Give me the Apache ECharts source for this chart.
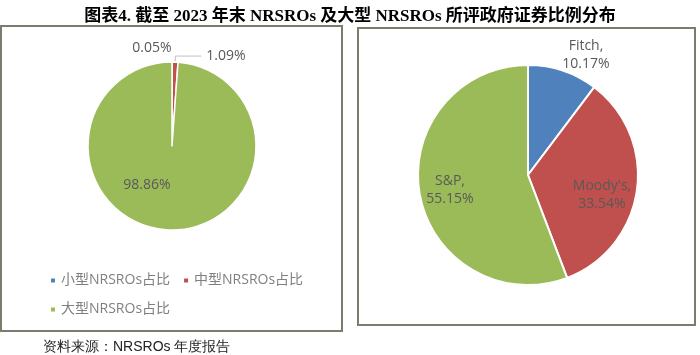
<!DOCTYPE html>
<html>
<head>
<meta charset="utf-8">
<script src="https://cdn.jsdelivr.net/npm/echarts@6/dist/echarts.min.js"></script>
<style>html,body{margin:0;padding:0;background:#fff;}#c{width:700px;height:355px;}</style>
</head>
<body>
<div id="c"></div>
<script>
// ---- data ----
const sizeNames = ['小型NRSROs占比', '中型NRSROs占比', '大型NRSROs占比'];
const sizeValues = [0.05, 1.09, 98.86];
const agencyNames = ['Fitch', "Moody's", 'S&P'];
const agencyValues = [10.17, 33.54, 55.15];
const titleText = '图表4. 截至 2023 年末 NRSROs 及大型 NRSROs 所评政府证券比例分布';
const sourceText = '资料来源：NRSROs 年度报告';

const colors = ['#4f81bd', '#c0504d', '#9bbb59'];
const FONT = "'Open Sans','Noto Sans CJK SC',sans-serif";
const labelColor = '#595959';

// label anchor positions (text block centers)
const leftLabelPos = { 0: [152, 48], 2: [147, 185] };
const rightLabelPos = { 0: [586, 55], 1: [602, 195], 2: [450, 190] };

const chart = echarts.init(document.getElementById('c'), null, { renderer: 'canvas' });

const leftData = sizeNames.map((n, i) => {
  const item = { name: n, value: sizeValues[i] };
  if (i === 0) item.labelLine = { show: false };
  if (i === 2) item.label = { position: 'inside' };
  return item;
});
const rightData = agencyNames.map((n, i) => ({
  name: n, value: agencyValues[i],
  label: { position: 'inside' },
  labelLine: { show: false }
}));

const option = {
  animation: false,
  color: colors,
  title: {
    text: titleText,
    left: 'center',
    top: 3,
    textStyle: { fontSize: 17, fontWeight: 'bold', color: '#000', fontFamily: "'Liberation Serif','Noto Sans CJK SC',serif" }
  },
  legend: {
    data: sizeNames,
    left: 44,
    top: 267,
    width: 290,
    orient: 'horizontal',
    icon: 'rect',
    itemWidth: 6,
    itemHeight: 6,
    itemGap: 12,
    textStyle: { fontSize: 14, color: '#7f7f7f', fontFamily: FONT, lineHeight: 17 }
  },
  graphic: [
    { type: 'rect', shape: { x: 1, y: 26, width: 341, height: 305 }, style: { fill: 'none', stroke: '#7b7d6c', lineWidth: 2 }, z: 0 },
    { type: 'rect', shape: { x: 358, y: 28, width: 337, height: 297 }, style: { fill: 'none', stroke: '#7b7d6c', lineWidth: 2 }, z: 0 },
    { type: 'text', left: 43, top: 340, style: { text: sourceText, fontSize: 14, fill: '#222', font: "14px 'Noto Sans CJK SC','Open Sans',sans-serif" } }
  ],
  series: [
    {
      type: 'pie',
      center: [172, 146],
      radius: [0, 84],
      startAngle: 90,
      clockwise: true,
      avoidLabelOverlap: false,
      itemStyle: { borderColor: '#fff', borderWidth: 1.5 },
      label: {
        show: true,
        position: 'outside',
        formatter: p => p.value.toFixed(2) + '%',
        color: labelColor,
        fontSize: 14,
        fontFamily: FONT
      },
      labelLine: { show: true, length: 6, length2: 26, lineStyle: { color: '#bfbfbf', width: 1 } },
      labelLayout: function (p) {
        const pos = leftLabelPos[p.dataIndex];
        if (!pos) return {};
        return { x: pos[0], y: pos[1], align: 'center', verticalAlign: 'middle' };
      },
      data: leftData
    },
    {
      type: 'pie',
      center: [528, 175],
      radius: [0, 110],
      startAngle: 90,
      clockwise: true,
      avoidLabelOverlap: false,
      itemStyle: { borderColor: '#fff', borderWidth: 2 },
      label: {
        show: true,
        formatter: p => p.name + ',\n' + p.value.toFixed(2) + '%',
        color: labelColor,
        fontSize: 14,
        lineHeight: 18,
        fontFamily: FONT,
        align: 'center'
      },
      labelLayout: function (p) {
        const pos = rightLabelPos[p.dataIndex];
        return { x: pos[0], y: pos[1], align: 'center', verticalAlign: 'middle' };
      },
      data: rightData
    }
  ]
};
chart.setOption(option);
</script>
</body>
</html>
